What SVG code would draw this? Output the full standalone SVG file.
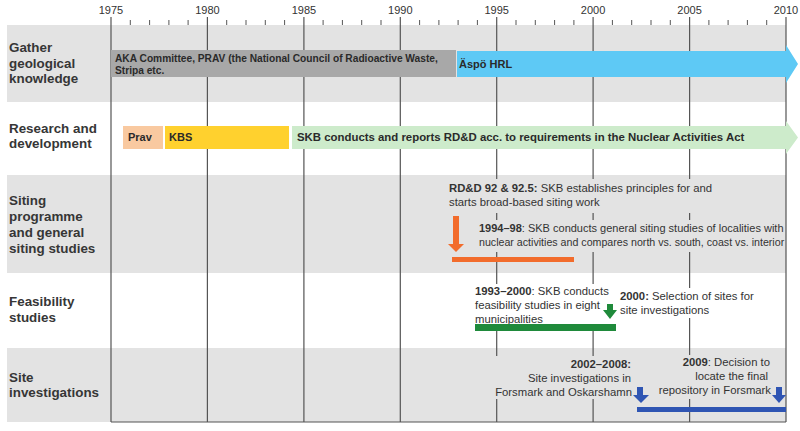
<svg xmlns="http://www.w3.org/2000/svg" width="800" height="431" viewBox="0 0 800 431">
<style>
.band{fill:#e3e3e3}
.lbl{font-family:"Liberation Sans",Arial,sans-serif;font-weight:bold;font-size:13.4px;fill:#363636}
.yr{font-family:"Liberation Sans",Arial,sans-serif;font-size:11px;fill:#333;text-anchor:middle}
.bt{font-family:"Liberation Sans",Arial,sans-serif;font-weight:bold;font-size:11px;fill:#2a2a2a}
.an{font-family:"Liberation Sans",Arial,sans-serif;font-size:11.3px;fill:#333}
.b{font-weight:bold}
.grid{stroke:#555;stroke-width:1.2;fill:none}
.tick{stroke:#555;stroke-width:1;fill:none}
</style>
<rect width="800" height="431" fill="#fff"/>
<g id="bands">
<rect class="band" x="7" y="25" width="779" height="77"/>
<rect class="band" x="7" y="175" width="779" height="98"/>
<rect class="band" x="7" y="348" width="779" height="74"/>
</g>
<g id="axis">
<text class="yr" x="111" y="14">1975</text>
<text class="yr" x="207.4" y="14">1980</text>
<text class="yr" x="303.9" y="14">1985</text>
<text class="yr" x="400.3" y="14">1990</text>
<text class="yr" x="496.7" y="14">1995</text>
<text class="yr" x="593.1" y="14">2000</text>
<text class="yr" x="689.6" y="14">2005</text>
<text class="yr" x="786" y="14">2010</text>
<path class="tick" d="M130.3 20V25M149.6 20V25M168.9 20V25M188.1 20V25M226.7 20V25M246 20V25M265.3 20V25M284.6 20V25M323.1 20V25M342.4 20V25M361.7 20V25M381 20V25M419.6 20V25M438.9 20V25M458.1 20V25M477.4 20V25M516 20V25M535.3 20V25M554.6 20V25M573.9 20V25M612.4 20V25M631.7 20V25M651 20V25M670.3 20V25M708.9 20V25M728.1 20V25M747.4 20V25M766.7 20V25"/>
<path class="grid" d="M111 17V422M207.4 17V422M303.9 17V422M400.3 17V422M496.7 17V422M593.1 17V422M689.6 17V422M786 17V422M111 422H786"/>
</g>
<g id="row-labels">
<text class="lbl" x="9" y="52">Gather</text>
<text class="lbl" x="9" y="67.5">geological</text>
<text class="lbl" x="9" y="83">knowledge</text>
<text class="lbl" x="9" y="133">Research and</text>
<text class="lbl" x="9" y="148">development</text>
<text class="lbl" x="9" y="205">Siting</text>
<text class="lbl" x="9" y="221">programme</text>
<text class="lbl" x="9" y="237">and general</text>
<text class="lbl" x="9" y="253">siting studies</text>
<text class="lbl" x="9" y="306">Feasibility</text>
<text class="lbl" x="9" y="321.5">studies</text>
<text class="lbl" x="9" y="381.5">Site</text>
<text class="lbl" x="9" y="397">investigations</text>
</g>
<g id="aka">
<rect x="111" y="50" width="345" height="27" fill="#a8a8a8"/>
<text class="bt" x="115" y="62" style="font-size:10.2px">AKA Committee, PRAV (the National Council of Radioactive Waste,</text>
<text class="bt" x="115" y="74" style="font-size:10.2px">Stripa etc.</text>
</g>
<g id="aspo">
<polygon points="457,51 786,51 786,45 798,64 786,83 786,77 457,77" fill="#5ec9f5"/>
<text class="bt" x="459" y="68">Äspö HRL</text>
</g>
<g id="prav">
<rect x="123" y="126" width="40" height="23" fill="#f9c9a0"/>
<text class="bt" x="128" y="141">Prav</text>
</g>
<g id="kbs">
<rect x="165" y="126" width="124" height="23" fill="#ffd12e"/>
<text class="bt" x="169" y="141">KBS</text>
</g>
<g id="skb-rdd">
<polygon points="292,126 786,126 786,121 798,137.5 786,154 786,149 292,149" fill="#cdebcb"/>
<text class="bt" x="297" y="141" style="font-size:11.4px">SKB conducts and reports RD&amp;D acc. to requirements in the Nuclear Activities Act</text>
</g>
<g id="rdd92">
<rect class="band" x="446" y="179" width="272" height="34"/>
<text class="an" x="449" y="192"><tspan class="b">RD&amp;D 92 &amp; 92.5:</tspan> SKB establishes principles for and</text>
<text class="an" x="449" y="206">starts broad-based siting work</text>
</g>
<g id="siting-9498">
<rect class="band" x="476" y="220" width="309" height="32"/>
<text class="an" x="479" y="232" style="font-size:11px"><tspan class="b">1994–98</tspan>: SKB conducts general siting studies of localities with</text>
<text class="an" x="479" y="246" style="font-size:10.65px">nuclear activities and compares north vs. south, coast vs. interior</text>
</g>
<g id="feas-9300">
<rect x="473" y="284" width="139" height="40" fill="#fff"/>
<text class="an" x="475" y="295"><tspan class="b">1993–2000</tspan>: SKB conducts</text>
<text class="an" x="475" y="309">feasibility studies in eight</text>
<text class="an" x="475" y="323">municipalities</text>
</g>
<g id="sel-2000">
<rect x="618" y="288" width="138" height="30" fill="#fff"/>
<text class="an" x="620" y="300"><tspan class="b">2000:</tspan> Selection of sites for</text>
<text class="an" x="620" y="314">site investigations</text>
</g>
<g id="si-0208">
<rect class="band" x="495" y="356" width="138" height="43"/>
<text class="an" x="631" y="368" text-anchor="end"><tspan class="b">2002–2008:</tspan></text>
<text class="an" x="631" y="382" text-anchor="end">Site investigations in</text>
<text class="an" x="632" y="396" text-anchor="end">Forsmark and Oskarshamn</text>
</g>
<g id="dec-2009">
<rect class="band" x="666" y="355" width="107" height="44"/>
<text class="an" x="770" y="366" text-anchor="end"><tspan class="b">2009</tspan>: Decision to</text>
<text class="an" x="768" y="380" text-anchor="end">locate the final</text>
<text class="an" x="771" y="394" text-anchor="end">repository in Forsmark</text>
</g>
<g id="connectors">
<polygon points="453,216 459,216 459,244 464,244 456,252 448,244 453,244" fill="#f26c2c"/>
<rect x="452" y="257" width="122" height="5" fill="#f26c2c"/>
<polygon points="607,304 613,304 613,310 617,310 610,319 603,310 607,310" fill="#1f8a3b"/>
<rect x="475" y="324" width="141" height="7" fill="#1f8a3b"/>
<polygon points="637,387 643,387 643,395 649,395 641,403 633,395 637,395" fill="#2f55b3"/>
<polygon points="776,387 782,387 782,395 786,395 779,403 772,395 776,395" fill="#2f55b3"/>
<rect x="637" y="407" width="149" height="5" fill="#2f55b3"/>
</g>
</svg>
